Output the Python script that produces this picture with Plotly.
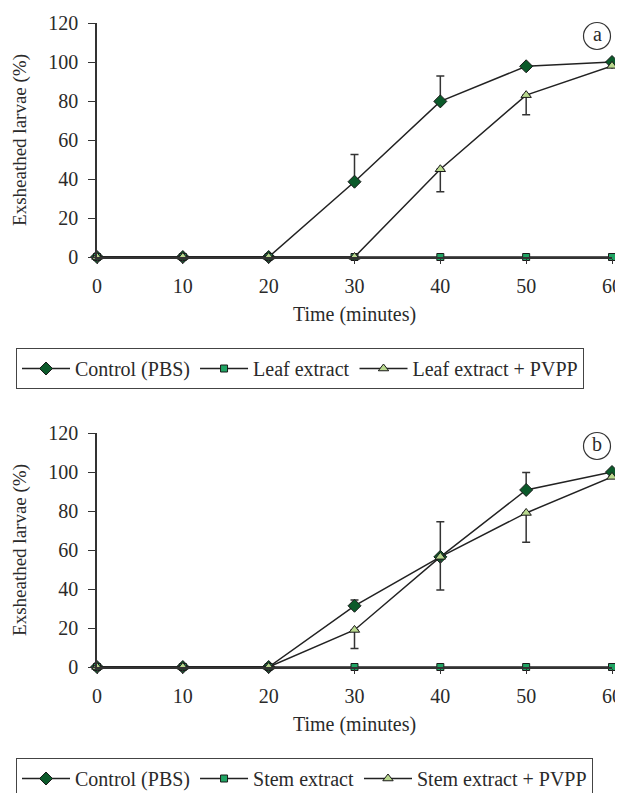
import plotly.graph_objects as go

time_min = [0, 10, 20, 30, 40, 50, 60]

# Panel (a) – leaf
a_control = [0, 0, 0, 38.6, 79.8, 97.8, 100]
a_control_err = [0, 0, 0, 14, 13, 0, 0]
a_leaf = [0, 0, 0, 0, 0, 0, 0]
a_pvpp = [0, 0, 0, 0, 45, 83, 98]
a_pvpp_err = [0, 0, 0, 0, 11.5, 10, 0]

# Panel (b) – stem
b_control = [0, 0, 0, 31.4, 56.5, 90.8, 100]
b_control_err = [0, 0, 0, 3, 18, 9, 0]
b_stem = [0, 0, 0, 0, 0, 0, 0]
b_pvpp = [0, 0, 0, 19, 56.5, 79, 97.5]
b_pvpp_err = [0, 0, 0, 9.5, 17, 15, 0]

y_ticks = [0, 20, 40, 60, 80, 100, 120]

FONT = "Liberation Serif"
FS = 20
TXT = "#2a2a2a"
LINE = "#222222"
C_DIAMOND = "#0b5a2a"
C_SQUARE = "#1fa463"
C_TRI = "#b9d98e"
EDGE = "#1a1a1a"

# the page body has an 8px default margin -> design in shifted pixel coords
OFF = 8
W, H = 623 - OFF, 793 - OFF
ML, MR = 16 - OFF, 3
GW = W - ML - MR


def px_x(xp):
    return (xp - OFF - ML) / GW


def px_y(yp):
    return 1 - (yp - OFF) / H


fig = go.Figure()


def add_panel(xa, ya, legend, control, control_err, ext, pvpp, pvpp_err, ext_name, pvpp_name):
    fig.add_trace(go.Scatter(
        x=time_min, y=control, name="Control (PBS)", mode="lines+markers",
        xaxis=xa, yaxis=ya, legend=legend, cliponaxis=False,
        line=dict(color=LINE, width=1.5),
        marker=dict(symbol="diamond", size=10, color=C_DIAMOND, line=dict(color=EDGE, width=1)),
        error_y=dict(type="data", array=control_err, arrayminus=[0] * len(control_err),
                     symmetric=False, color="#333333", thickness=1.5, width=4),
    ))
    fig.add_trace(go.Scatter(
        x=time_min, y=ext, name=ext_name, mode="lines+markers",
        xaxis=xa, yaxis=ya, legend=legend, cliponaxis=False,
        line=dict(color=LINE, width=1.5),
        marker=dict(symbol="square", size=7, color=C_SQUARE, line=dict(color=EDGE, width=1)),
    ))
    fig.add_trace(go.Scatter(
        x=time_min, y=pvpp, name=pvpp_name, mode="lines+markers",
        xaxis=xa, yaxis=ya, legend=legend, cliponaxis=False,
        line=dict(color=LINE, width=1.5),
        marker=dict(symbol="triangle-up", size=9, color=C_TRI, line=dict(color=EDGE, width=1)),
        error_y=dict(type="data", array=[0] * len(pvpp_err), arrayminus=pvpp_err,
                     symmetric=False, color="#333333", thickness=1.5, width=4),
    ))


add_panel("x", "y", "legend", a_control, a_control_err, a_leaf, a_pvpp, a_pvpp_err,
          "Leaf extract", "Leaf extract + PVPP")
add_panel("x2", "y2", "legend2", b_control, b_control_err, b_stem, b_pvpp, b_pvpp_err,
          "Stem extract", "Stem extract + PVPP")

xdom = [px_x(97), px_x(612)]

xaxis_common = dict(
    range=[0, 60], tickvals=time_min, showline=True, linecolor="#333333", linewidth=1.5,
    ticks="outside", ticklen=5, tickwidth=1.2, tickcolor="#333333", ticklabelstandoff=5,
    showgrid=False, zeroline=False, tickfont=dict(family=FONT, size=FS, color=TXT),
    title=dict(text="Time (minutes)", font=dict(family=FONT, size=FS, color=TXT), standoff=11),
    automargin=False,
)
yaxis_common = dict(
    range=[0, 120], tickvals=y_ticks, showline=True, linecolor="#333333", linewidth=1.5,
    ticks="outside", ticklen=7, tickwidth=1.2, tickcolor="#333333", ticklabelstandoff=6,
    showgrid=False, zeroline=False, tickfont=dict(family=FONT, size=FS, color=TXT),
    title=dict(text="Exsheathed larvae (%)", font=dict(family=FONT, size=19, color=TXT), standoff=17),
    automargin=False,
)

legend_common = dict(
    orientation="h", xanchor="left", yanchor="top", x=0,
    bordercolor="#444444", borderwidth=1, bgcolor="white",
    font=dict(family=FONT, size=FS, color=TXT),
    itemwidth=48, tracegroupgap=0,
)

fig.update_layout(
    width=W, height=H,
    margin=dict(l=ML, r=MR, t=0, b=0, autoexpand=False),
    paper_bgcolor="white", plot_bgcolor="white",
    showlegend=True,
    xaxis=dict(**xaxis_common, domain=xdom, anchor="y"),
    yaxis=dict(**yaxis_common, domain=[px_y(257), px_y(23)], anchor="x"),
    xaxis2=dict(**xaxis_common, domain=xdom, anchor="y2"),
    yaxis2=dict(**yaxis_common, domain=[px_y(667), px_y(433)], anchor="x2"),
    legend=dict(**legend_common, y=px_y(348)),
    legend2=dict(**legend_common, y=px_y(758)),
)

# circled panel labels
R = 13.5
for label, cx_px, cy_px in [("a", 597, 36), ("b", 597, 446)]:
    fig.add_shape(type="circle", xref="paper", yref="paper",
                  x0=px_x(cx_px - R), x1=px_x(cx_px + R),
                  y0=px_y(cy_px + R), y1=px_y(cy_px - R),
                  line=dict(color="#333333", width=1.2), fillcolor="rgba(0,0,0,0)")
    fig.add_annotation(x=px_x(cx_px), y=px_y(cy_px), xref="paper", yref="paper", text=label,
                       showarrow=False, xanchor="center", yanchor="middle",
                       font=dict(family=FONT, size=FS, color=TXT), yshift=2)

fig.write_html("out.html")
